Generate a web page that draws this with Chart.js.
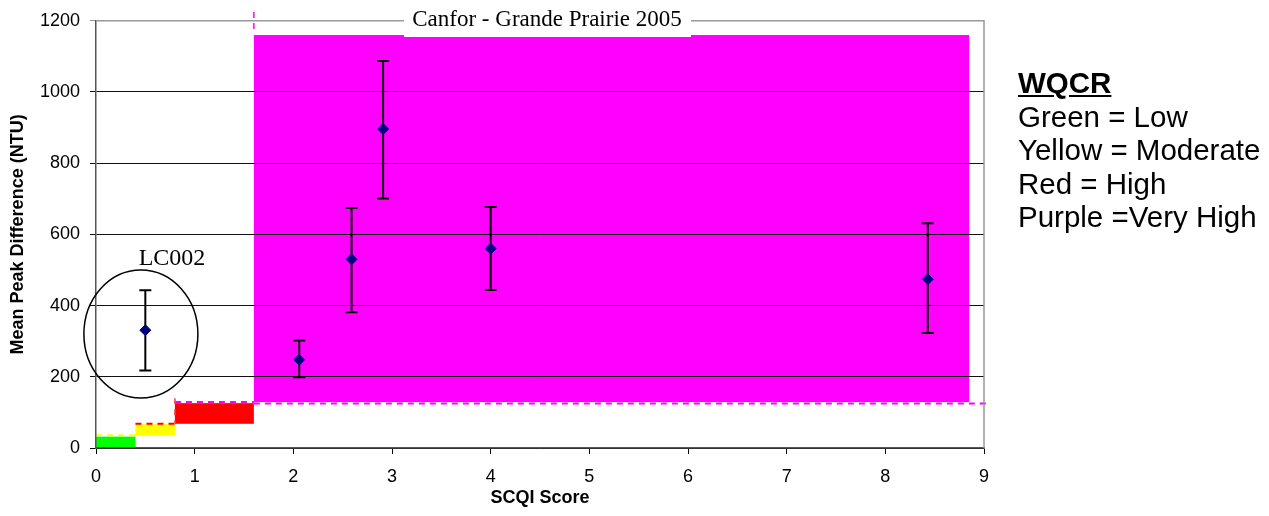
<!DOCTYPE html>
<html>
<head>
<meta charset="utf-8">
<script src="https://cdn.jsdelivr.net/npm/chart.js@4/dist/chart.umd.min.js"></script>
<style>
  html, body { margin: 0; padding: 0; background: #fff; }
  #wrap { position: relative; width: 1269px; height: 516px; }
  #legend {
    position: absolute; left: 1018px; top: 66px;
    font-family: Arial, "Liberation Sans", sans-serif; font-size: 29.5px; line-height: 33.5px; color: #000;
  }
  #legend b { text-decoration: underline; }
</style>
</head>
<body>
<div id="wrap">
  <canvas id="chart" width="1269" height="516"></canvas>
  <div id="legend">
    <b>WQCR</b><br>
    Green = Low<br>
    Yellow = Moderate<br>
    Red = High<br>
    Purple =Very High
  </div>
</div>
<script>
// Sites: SCQI score vs mean peak difference, with error bar ends
const scqiScores = [0.5, 2.06, 2.59, 2.91, 4.0, 8.43];
const peakMeans = [331, 248, 530, 896, 560, 474];
const errUpper = [443, 302, 674, 1087, 677, 631];
const errLower = [218, 199, 381, 701, 444, 323];

// WQCR risk bands (x range, y range)
const bandNames = ['Low', 'Moderate', 'High', 'Very High'];
const bandColors = ['#00ff00', '#ffff00', '#ff0000', '#ff00ff'];
const bandXStart = [0, 0.4, 0.8, 1.6];
const bandXEnd = [0.4, 0.8, 1.6, 8.85];
const bandYLow = [0, 36, 68, 129];
const bandYHigh = [32, 67, 126, 1160];

const yTicks = [0, 200, 400, 600, 800, 1000, 1200];
const xTicks = [0, 1, 2, 3, 4, 5, 6, 7, 8, 9];

const PLOT_LEFT = 96;
const PLOT_RIGHT = 984;
const PLOT_TOP = 18;
const PLOT_BOTTOM = 448;

/**
 * Draw the coloured risk bands under the grid
 */
const bandsPlugin = {
  id: 'bands',
  beforeDraw(chart) {
    const { ctx, scales: { x, y } } = chart;
    ctx.save();
    bandNames.forEach((name, i) => {
      const x0 = x.getPixelForValue(bandXStart[i]);
      const x1 = x.getPixelForValue(bandXEnd[i]);
      const y0 = y.getPixelForValue(bandYHigh[i]);
      const y1 = y.getPixelForValue(bandYLow[i]);
      ctx.fillStyle = bandColors[i];
      ctx.fillRect(x0, y0, x1 - x0, y1 - y0);
    });

    // dashed edges in the colour of the next band
    ctx.lineWidth = 2;
    ctx.setLineDash([6, 5]);
    for (let i = 0; i < bandNames.length; i++) {
      const next = bandColors[Math.min(i + 1, bandColors.length - 1)];
      const yy = y.getPixelForValue(i < 3 ? bandYLow[i + 1] : bandYLow[i]) + (i < 3 ? 0 : 1.5);
      const xEnd = i < 3 ? bandXEnd[i] : 9.07;
      ctx.strokeStyle = i < 3 ? next : bandColors[i];
      ctx.beginPath();
      ctx.moveTo(x.getPixelForValue(bandXStart[i]), yy);
      ctx.lineTo(x.getPixelForValue(xEnd), yy);
      ctx.stroke();
    }
    // little vertical dashes at band steps
    ctx.lineWidth = 1.5;
    ctx.strokeStyle = '#ff00ff';
    ctx.beginPath();
    ctx.moveTo(x.getPixelForValue(1.6), 12);
    ctx.lineTo(x.getPixelForValue(1.6), 30);
    ctx.stroke();
    ctx.strokeStyle = '#ff4040';
    ctx.beginPath();
    ctx.moveTo(x.getPixelForValue(0.8), y.getPixelForValue(140));
    ctx.lineTo(x.getPixelForValue(0.8), y.getPixelForValue(68));
    ctx.stroke();
    ctx.restore();
  },
  beforeDatasetsDraw(chart) {
    // top and right plot border
    const { ctx, chartArea: a } = chart;
    ctx.save();
    ctx.strokeStyle = '#999';
    ctx.lineWidth = 1.5;
    ctx.beginPath();
    ctx.moveTo(a.left, a.top);
    ctx.lineTo(a.right, a.top);
    ctx.lineTo(a.right, a.bottom);
    ctx.stroke();
    ctx.restore();
  }
};

/**
 * Error bars, the LC002 circle and the boxed title
 */
const extrasPlugin = {
  id: 'extras',
  beforeDatasetsDraw(chart) {
    const { ctx, scales: { x, y } } = chart;
    ctx.save();
    ctx.strokeStyle = '#000';
    ctx.lineWidth = 2;
    scqiScores.forEach((s, i) => {
      const px = x.getPixelForValue(s);
      const top = y.getPixelForValue(errUpper[i]);
      const bot = y.getPixelForValue(errLower[i]);
      ctx.beginPath();
      ctx.moveTo(px, top);
      ctx.lineTo(px, bot);
      ctx.moveTo(px - 6, top);
      ctx.lineTo(px + 6, top);
      ctx.moveTo(px - 6, bot);
      ctx.lineTo(px + 6, bot);
      ctx.stroke();
    });
    ctx.restore();
  },
  afterDraw(chart) {
    const { ctx, scales: { x, y } } = chart;
    ctx.save();

    // circle around LC002
    ctx.strokeStyle = '#000';
    ctx.lineWidth = 1.5;
    ctx.beginPath();
    ctx.ellipse(x.getPixelForValue(0.455), y.getPixelForValue(320), 57, 64, 0, 0, Math.PI * 2);
    ctx.stroke();

    ctx.fillStyle = '#000';
    ctx.font = '24px "Liberation Serif", "Times New Roman", serif';
    ctx.textAlign = 'center';
    ctx.textBaseline = 'middle';
    ctx.fillText('LC002', x.getPixelForValue(0.77), y.getPixelForValue(532));

    // title in a white box
    ctx.fillStyle = '#fff';
    ctx.fillRect(404, 0, 287, 37);
    ctx.fillStyle = '#000';
    ctx.font = '23px "Liberation Serif", "Times New Roman", serif';
    ctx.fillText('Canfor - Grande Prairie 2005', 547, 20);
    ctx.restore();
  }
};

const ctx = document.getElementById('chart').getContext('2d');
const chart = new Chart(ctx, {
  type: 'scatter',
  data: {
    datasets: [
      {
        label: 'Mean peak difference',
        data: scqiScores.map((s, i) => ({ x: s, y: peakMeans[i] })),
        backgroundColor: '#000080',
        borderColor: '#000080',
        pointStyle: 'rectRot',
        pointRadius: 5.5,
        showLine: false,
      },
    ],
  },
  options: {
    responsive: false,
    animation: false,
    devicePixelRatio: 1,
    layout: {
      padding: { left: 0, right: 1269 - PLOT_RIGHT, top: PLOT_TOP, bottom: 0 },
    },
    plugins: {
      legend: { display: false },
      tooltip: { enabled: false },
    },
    scales: {
      x: {
        type: 'linear',
        min: 0,
        max: 9,
        afterBuildTicks: scale => {
          scale.ticks = xTicks.map(v => ({ value: v }));
        },
        afterFit: scale => {
          scale.height = 516 - PLOT_BOTTOM;
        },
        ticks: {
          color: '#000',
          padding: 12,
          callback: v => String(v),
          font: { family: 'Arial, "Liberation Sans", sans-serif', size: 18 },
        },
        grid: {
          drawOnChartArea: false,
          drawTicks: true,
          tickLength: 6,
          color: '#000',
        },
        border: { color: '#555', width: 1.5 },
        title: {
          display: true,
          text: 'SCQI Score',
          color: '#000',
          padding: { top: 0, bottom: 7 },
          font: { family: 'Arial, "Liberation Sans", sans-serif', size: 18, weight: 'bold' },
        },
      },
      y: {
        type: 'linear',
        min: 0,
        max: 1200,
        afterBuildTicks: scale => {
          scale.ticks = yTicks.map(v => ({ value: v }));
        },
        afterFit: scale => {
          scale.width = PLOT_LEFT;
        },
        ticks: {
          color: '#000',
          padding: 10,
          callback: v => String(v),
          font: { family: 'Arial, "Liberation Sans", sans-serif', size: 18 },
        },
        grid: {
          color: c => (c.tick && c.tick.value === 1200 ? '#999' : '#111'),
          lineWidth: 1,
          tickLength: 6,
        },
        border: { color: '#555', width: 1.5 },
        title: {
          display: true,
          text: 'Mean Peak Difference (NTU)',
          color: '#000',
          padding: { top: 7, bottom: 0 },
          font: { family: 'Arial, "Liberation Sans", sans-serif', size: 18, weight: 'bold' },
        },
      },
    },
  },
  plugins: [bandsPlugin, extrasPlugin],
});
</script>
</body>
</html>
